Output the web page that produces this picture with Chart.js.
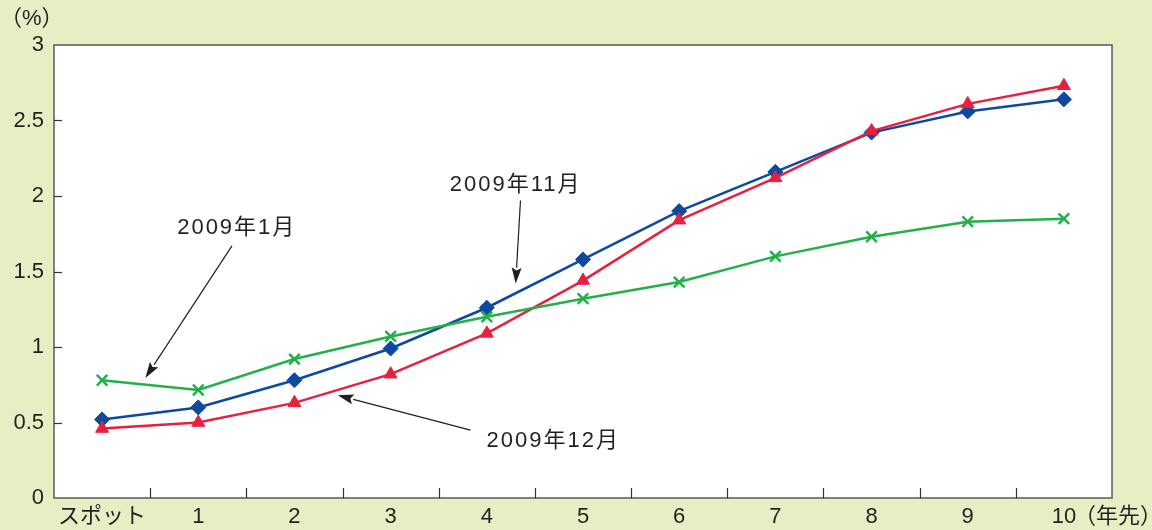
<!DOCTYPE html>
<html><head><meta charset="utf-8">
<script src="https://cdn.jsdelivr.net/npm/chart.js@4/dist/chart.umd.min.js"></script>
<style>
html,body{margin:0;padding:0;background:#e6efc4;}
#wrap{width:1152px;height:530px;position:relative;}
</style></head>
<body><div id="wrap"><canvas id="c" width="1152" height="530"></canvas></div>
<script>
const categories = ['スポット','1','2','3','4','5','6','7','8','9','10'];
const yTicks = [0,0.5,1,1.5,2,2.5,3];
const seriesNames = ['2009年11月','2009年12月','2009年1月'];
const nov2009 = [0.52,0.60,0.78,0.99,1.26,1.58,1.90,2.16,2.42,2.56,2.64];
const dec2009 = [0.46,0.50,0.63,0.82,1.09,1.44,1.84,2.12,2.43,2.61,2.73];
const jan2009 = [0.78,0.715,0.92,1.07,1.20,1.32,1.43,1.60,1.73,1.83,1.85];

const FONT = "'Liberation Sans','Noto Sans CJK JP',sans-serif";
const TXT = '#231f20';

const annotations = [
  {text:'2009年1月', tx:1.40, ty:1.79, ax1:1.35, ay1:1.67, ax2:0.45, ay2:0.795},
  {text:'2009年11月', tx:4.30, ty:2.07, ax1:4.35, ay1:1.97, ax2:4.30, ay2:1.42},
  {text:'2009年12月', tx:4.69, ty:0.38, ax1:3.83, ay1:0.45, ax2:2.45, ay2:0.68}
];

function xPix(xs, v){ const a=xs.getPixelForValue(0), b=xs.getPixelForValue(1); return a+(b-a)*v; }

const decor = {
  id:'decor',
  beforeDraw(chart){
    const {ctx, chartArea:ca} = chart;
    ctx.save();
    ctx.fillStyle='#e6efc4'; ctx.fillRect(0,0,chart.width,chart.height);
    ctx.fillStyle='#ffffff'; ctx.fillRect(ca.left,ca.top,ca.right-ca.left,ca.bottom-ca.top);
    ctx.restore();
  },
  afterDatasetsDraw(chart){
    const {ctx, chartArea:ca, scales} = chart;
    const xs=scales.x, ys=scales.y;
    ctx.save();
    ctx.strokeStyle='#5a5a55'; ctx.lineWidth=1.5;
    ctx.strokeRect(ca.left,ca.top,ca.right-ca.left,ca.bottom-ca.top);
    ctx.strokeStyle='#333'; ctx.lineWidth=1.2;
    const step = xs.getPixelForValue(1)-xs.getPixelForValue(0);
    for(let i=0;i<categories.length-1;i++){
      const x = Math.round(xs.getPixelForValue(i)+step/2)+0.5;
      ctx.beginPath(); ctx.moveTo(x,ca.bottom); ctx.lineTo(x,ca.bottom-10); ctx.stroke();
    }
    yTicks.forEach(v=>{
      if(v===0||v===3) return;
      const y=Math.round(ys.getPixelForValue(v))+0.5;
      ctx.beginPath(); ctx.moveTo(ca.left,y); ctx.lineTo(ca.left+8,y); ctx.stroke();
    });
    ctx.fillStyle=TXT; ctx.strokeStyle=TXT;
    ctx.font="22px "+FONT; ctx.textAlign='center'; ctx.textBaseline='middle';
    ctx.letterSpacing='2px';
    annotations.forEach(a=>{
      ctx.fillText(a.text, xPix(xs,a.tx), ys.getPixelForValue(a.ty));
      const x1=xPix(xs,a.ax1), y1=ys.getPixelForValue(a.ay1);
      const x2=xPix(xs,a.ax2), y2=ys.getPixelForValue(a.ay2);
      const ang=Math.atan2(y2-y1,x2-x1);
      const L=16, W=5;
      const bx=x2-L*Math.cos(ang), by=y2-L*Math.sin(ang);
      ctx.lineWidth=1.2;
      ctx.beginPath(); ctx.moveTo(x1,y1); ctx.lineTo(bx,by); ctx.stroke();
      ctx.beginPath();
      ctx.moveTo(x2,y2);
      ctx.lineTo(bx+W*Math.sin(ang), by-W*Math.cos(ang));
      ctx.lineTo(bx+3*Math.cos(ang), by+3*Math.sin(ang));
      ctx.lineTo(bx-W*Math.sin(ang), by+W*Math.cos(ang));
      ctx.closePath(); ctx.fill();
    });
    ctx.letterSpacing='0px';
    ctx.font="22px "+FONT;
    ctx.textAlign='left'; ctx.textBaseline='middle';
    ctx.fillText('（%）', 0, 19);
    ctx.fillText('（年先）', xs.getPixelForValue(10)+10, 517);
    ctx.restore();
  }
};

new Chart(document.getElementById('c'), {
  type:'line',
  data:{
    labels:categories,
    datasets:[
      {label:seriesNames[2], data:jan2009, borderColor:'#22b04a', backgroundColor:'#22b04a',
       borderWidth:2.5, pointStyle:'crossRot', pointRadius:7.5, pointBorderWidth:2.5, tension:0},
      {label:seriesNames[1], data:dec2009, borderColor:'#e8203f', backgroundColor:'#e8203f',
       borderWidth:2.5, pointStyle:'triangle', pointRadius:7.5, pointBorderWidth:1, tension:0},
      {label:seriesNames[0], data:nov2009, borderColor:'#0d4a9e', backgroundColor:'#0d4a9e',
       borderWidth:2.5, pointStyle:'rectRot', pointRadius:7.5, pointBorderWidth:1, tension:0}
    ]
  },
  options:{
    responsive:false, animation:false, devicePixelRatio:1,
    layout:{padding:{top:45,right:40,left:0,bottom:0}},
    plugins:{legend:{display:false}, tooltip:{enabled:false}},
    scales:{
      x:{type:'category', offset:true,
        grid:{display:false, drawTicks:false}, border:{display:false},
        ticks:{color:TXT, font:{size:22, family:FONT}, padding:6, maxRotation:0, autoSkip:false},
        afterFit(s){ s.height=32; }
      },
      y:{min:0,max:3,
        afterBuildTicks(s){ s.ticks = yTicks.map(v=>({value:v})); },
        grid:{display:false, drawTicks:false}, border:{display:false},
        ticks:{color:TXT, font:{size:22, family:FONT}, padding:10, callback:v=>String(v)},
        afterFit(s){ s.width=54; }
      }
    }
  },
  plugins:[decor]
});
</script></body></html>
